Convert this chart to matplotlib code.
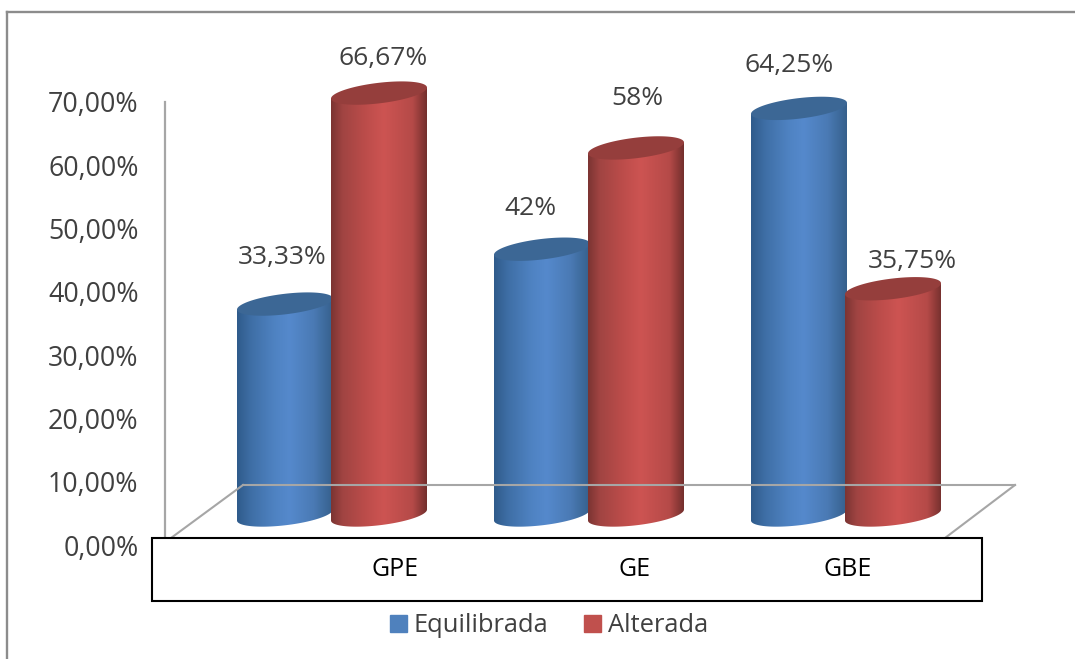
import numpy as np
import matplotlib
matplotlib.use("Agg")
import matplotlib.pyplot as plt
from matplotlib.colors import LinearSegmentedColormap
from matplotlib.lines import Line2D
from matplotlib.patches import Patch, PathPatch, Rectangle
from matplotlib.path import Path

categories = ["GPE", "GE", "GBE"]
equilibrada = [33.33, 42, 64.25]
alterada = [66.67, 58, 35.75]
equilibrada_labels = ["33,33%", "42%", "64,25%"]
alterada_labels = ["66,67%", "58%", "35,75%"]
ticks = [0, 10, 20, 30, 40, 50, 60, 70]
tick_labels = ["0,00%", "10,00%", "20,00%", "30,00%", "40,00%", "50,00%", "60,00%", "70,00%"]

W, H = 1075, 659
plt.rcParams["font.family"] = ["Open Sans", "DejaVu Sans"]
fig = plt.figure(figsize=(W / 100, H / 100), dpi=100, facecolor="white")

def fx(p): return p / W
def fy(p): return 1 - p / H

# wall axes: taller than the 0-70 wall so that the cylinder tops are not cut
L, R, T70, B = 165, 1015, 102, 545
PX = (B - T70) / 70.0  # pixels per percent
YMAX = 80.0
T = B - YMAX * PX
ax = fig.add_axes([fx(L), fy(B), (R - L) / W, (B - T) / H], facecolor="none")
STEP = 257.0
X0 = 330.0
XL = ((L - X0) / STEP, (R - X0) / STEP)

GRAY = "#a6a6a6"
for s in ["top", "right", "bottom"]:
    ax.spines[s].set_visible(False)
ax.spines["left"].set_color(GRAY)
ax.spines["left"].set_linewidth(1.6)
ax.spines["left"].set_bounds(0, 70)
ax.set_yticks(ticks)
ax.set_yticklabels(tick_labels, fontsize=19.3, color="#404040")
ax.tick_params(axis="y", length=0, pad=19)
ax.set_xticks([])

# frame and floor
for xs, ys, c, lw in [
    ((7, 7), (12, 659), "#8c8c8c", 1.7),
    ((7, 1075), (12, 12), "#8c8c8c", 1.7),
    ((171, 243), (538, 485), GRAY, 1.5),
    ((243, 1015), (485, 485), GRAY, 1.5),
    ((1015, 945), (485, 538), GRAY, 1.5),
]:
    fig.add_artist(Line2D([fx(x) for x in xs], [fy(y) for y in ys], color=c, lw=lw, zorder=1))

blue_cm = LinearSegmentedColormap.from_list("b", [(0, "#2f5b8b"), (.15, "#3f6fa6"), (.4, "#4f83c3"),
                                                  (.55, "#5589cc"), (.8, "#4a7ab4"), (1, "#36608c")])
red_cm = LinearSegmentedColormap.from_list("r", [(0, "#7b3432"), (.12, "#a04442"), (.35, "#bb4c4a"),
                                                 (.55, "#cd5452"), (.85, "#b54a48"), (1, "#732f2d")])
grad = np.linspace(0, 1, 256).reshape(1, -1)

BASE = (B - 515) / PX
WIDTH = 96 / STEP
SEMI = 10.3 / PX
TILT = 5.5 / PX

def cylinder(xc, value, cmap, top, z):
    a = WIDTH / 2
    y = BASE + value
    t = np.linspace(np.pi, 2 * np.pi, 60)
    low = np.column_stack([xc + a * np.cos(t), BASE + SEMI * np.sin(t) + TILT * np.cos(t)])
    up = np.column_stack([(xc + a * np.cos(t))[::-1], (y + TILT * np.cos(t))[::-1]])
    body = Path(np.vstack([low, up, low[:1]]))
    im = ax.imshow(grad, cmap=cmap, extent=[xc - a, xc + a, BASE - SEMI - 1, y + 1], aspect="auto", zorder=z)
    im.set_clip_path(PathPatch(body, transform=ax.transData))
    t2 = np.linspace(0, 2 * np.pi, 120)
    cap = Path(np.column_stack([xc + a * np.cos(t2), y + SEMI * np.sin(t2) + TILT * np.cos(t2)]))
    ax.add_patch(PathPatch(cap, facecolor=top, edgecolor="none", zorder=z + 0.1, clip_on=False))

blue_offs = -45 / STEP
red_offs = 49 / STEP
blue_lab = [(-3, 47), (-12, 41), (-10, 43)]
red_lab = [(4, 35), (1, 49), (19, 27)]

for i in range(len(categories)):
    cylinder(i + blue_offs, equilibrada[i], blue_cm, "#3c6795", 3 + i)
    cylinder(i + red_offs, alterada[i], red_cm, "#953e3c", 3.5 + i)
    for xc, v, lab, off in [(i + blue_offs, equilibrada[i], equilibrada_labels[i], blue_lab[i]),
                            (i + red_offs, alterada[i], alterada_labels[i], red_lab[i])]:
        ax.annotate(lab, xy=(xc, BASE + v), xytext=(off[0] * 0.72, off[1] * 0.72),
                    textcoords="offset points", ha="center", va="center",
                    fontsize=19, color="#404040", zorder=10, annotation_clip=False)

ax.set_xlim(*XL)
ax.set_ylim(0, YMAX)

# category box
fig.add_artist(Rectangle((fx(152), fy(601)), 830 / W, 63 / H, transform=fig.transFigure,
                         facecolor="white", edgecolor="black", lw=1.5, zorder=20))
for name, px in zip(categories, [395, 635, 848]):
    fig.text(fx(px), fy(570), name, ha="center", va="center", fontsize=18, color="black", zorder=21)

fig.legend(handles=[Patch(color="#4f81bd", label="Equilibrada"), Patch(color="#c0504d", label="Alterada")],
           loc="center", bbox_to_anchor=(fx(549), fy(626)), ncol=2, frameon=False, fontsize=18.4,
           labelcolor="#404040", handlelength=0.66, handleheight=0.66, handletextpad=0.27, columnspacing=1.37,
           borderpad=0, borderaxespad=0)

fig.savefig("out.png", dpi=100)
